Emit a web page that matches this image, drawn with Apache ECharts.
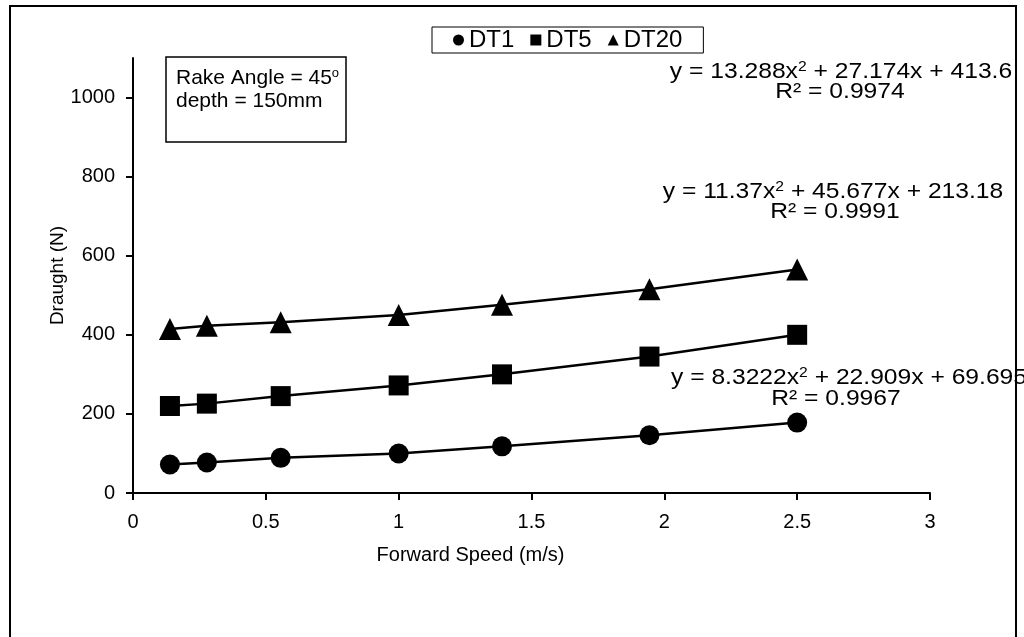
<!DOCTYPE html>
<html>
<head>
<meta charset="utf-8">
<script src="https://cdn.jsdelivr.net/npm/echarts@6/dist/echarts.min.js"></script>
<style>
  html, body { margin: 0; padding: 0; background: #fff; }
  #chart { width: 1024px; height: 637px; }
</style>
</head>
<body>
<div id="chart"></div>
<script>
// forward speed (m/s) -> 0.5, 1, 2, 3.6, 5, 7, 9 km/h
const speed = [0.139, 0.278, 0.556, 1.0, 1.389, 1.944, 2.5];
// draught (N)
const dt1 = [72, 77, 89, 100, 118, 146, 178];
const dt5 = [220, 226, 245, 272, 300, 345, 400];
const dt20 = [415, 423, 432, 450, 476, 515, 565];

const yTicks = [0, 200, 400, 600, 800, 1000];
const seriesNames = ['DT1', 'DT5', 'DT20'];
const symbols = ['circle', 'rect', 'triangle'];

const font = 'Liberation Sans, Arial, sans-serif';

function pairs(ys) {
  return speed.map((x, i) => [x, ys[i]]);
}

// trendline label, text is a bit stretched sideways in the original
function eqText(x, y, text) {
  return {
    type: 'text',
    x: x,
    y: y,
    scaleX: 1.12,
    z: 100,
    style: {
      text: text,
      fontFamily: font,
      fontSize: 22,
      fill: '#000',
      align: 'center',
      verticalAlign: 'middle',
      rich: {
        sup: { fontFamily: font, fontSize: 14, padding: [0, 0, 9, 0] }
      }
    }
  };
}

const chart = echarts.init(document.getElementById('chart'));

const option = {
  animation: false,
  backgroundColor: '#fff',
  textStyle: { fontFamily: font, color: '#000' },
  grid: { left: 133, right: 94, top: 58, bottom: 144 },
  legend: {
    left: 432,
    top: 27,
    padding: [1, 21, 1, 21],
    itemGap: 16,
    itemWidth: 11,
    itemHeight: 11,
    borderColor: '#000',
    borderWidth: 1,
    textStyle: { fontFamily: font, fontSize: 24, color: '#000' },
    data: seriesNames.map((n, i) => ({ name: n, icon: symbols[i] }))
  },
  xAxis: {
    type: 'value',
    min: 0,
    max: 3,
    interval: 0.5,
    name: 'Forward Speed (m/s)',
    nameLocation: 'middle',
    nameGap: 52,
    nameTextStyle: { fontSize: 20, color: '#000', padding: [0, 122, 0, 0] },
    axisLine: { lineStyle: { color: '#000', width: 2 } },
    axisTick: { length: 7, lineStyle: { color: '#000', width: 2 } },
    axisLabel: { fontSize: 20, color: '#000', margin: 19 },
    splitLine: { show: false }
  },
  yAxis: {
    type: 'value',
    min: 0,
    max: 1100,
    name: 'Draught (N)',
    nameLocation: 'middle',
    nameGap: 66,
    nameMoveOverlap: false,
    nameTextStyle: { fontSize: 19, color: '#000' },
    axisLine: { show: true, lineStyle: { color: '#000', width: 2 } },
    axisTick: { show: true, length: 7, customValues: yTicks, lineStyle: { color: '#000', width: 2 } },
    axisLabel: {
      fontSize: 20,
      color: '#000',
      margin: 18,
      customValues: yTicks,
      formatter: v => String(v)
    },
    splitLine: { show: false }
  },
  series: [dt1, dt5, dt20].map((d, i) => ({
    name: seriesNames[i],
    type: 'line',
    data: pairs(d),
    symbol: symbols[i],
    symbolSize: i === 2 ? 22 : 20,
    lineStyle: { color: '#000', width: 2.5 },
    itemStyle: { color: '#000' }
  })),
  graphic: [
    // outer chart border
    {
      type: 'rect',
      shape: { x: 10, y: 6, width: 1006, height: 700 },
      style: { fill: null, stroke: '#000', lineWidth: 2 },
      silent: true
    },
    // text box
    {
      type: 'group',
      x: 166,
      y: 57,
      children: [
        {
          type: 'rect',
          shape: { x: 0, y: 0, width: 180, height: 85 },
          style: { fill: '#fff', stroke: '#000', lineWidth: 1.5 }
        },
        {
          type: 'text',
          x: 10,
          y: 10,
          style: {
            text: 'Rake Angle = 45{sup|o}\ndepth = 150mm',
            fontFamily: font,
            fontSize: 21,
            lineHeight: 23,
            fill: '#000',
            rich: {
              sup: { fontFamily: font, fontSize: 13, verticalAlign: 'top', lineHeight: 23, padding: [0, 0, 8, 0] }
            }
          }
        }
      ]
    },
    eqText(841, 72, 'y = 13.288x{sup|2} + 27.174x + 413.6'),
    eqText(840, 92, 'R² = 0.9974'),
    eqText(833, 192, 'y = 11.37x{sup|2} + 45.677x + 213.18'),
    eqText(835, 212, 'R² = 0.9991'),
    eqText(849, 378, 'y = 8.3222x{sup|2} + 22.909x + 69.695'),
    eqText(836, 399, 'R² = 0.9967')
  ]
};

chart.setOption(option);
</script>
</body>
</html>
